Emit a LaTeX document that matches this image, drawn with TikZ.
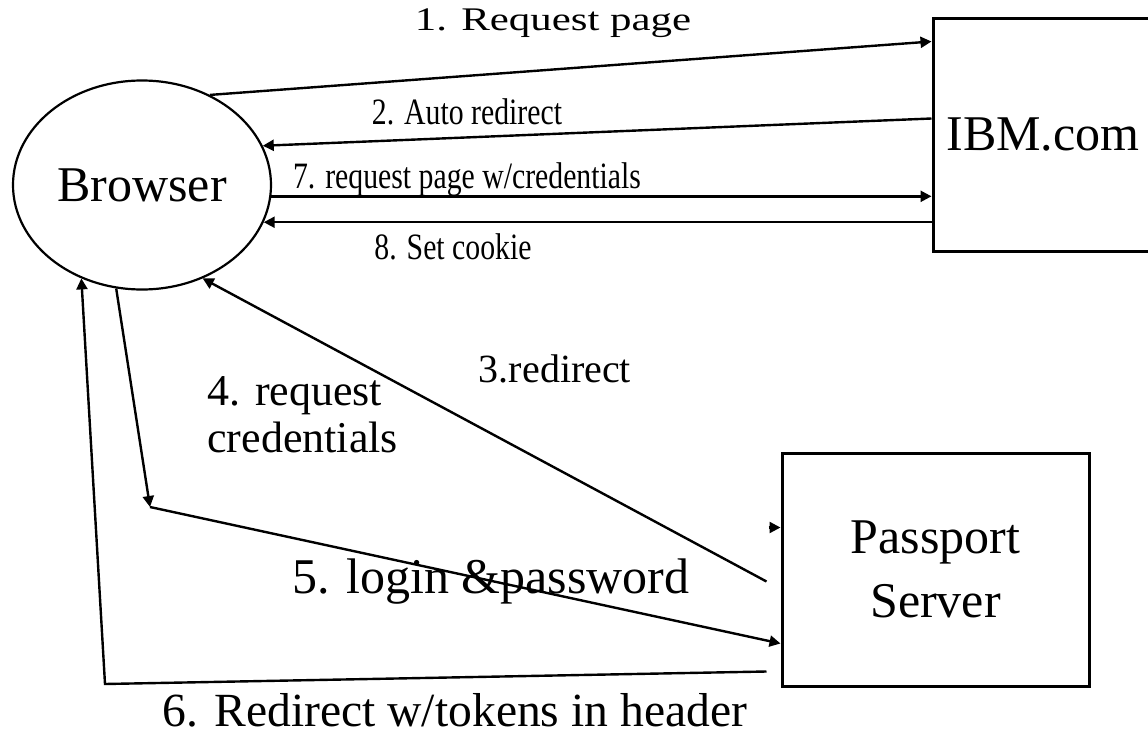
\documentclass[tikz,border=0pt]{standalone}
\usepackage{fontspec}
\setmainfont{Liberation Serif}
\newfontfamily\narrowserif[FakeStretch=0.8]{Liberation Serif}
\newfontfamily\wideserif[FakeStretch=1.3]{Liberation Serif}
\usetikzlibrary{arrows.meta,shapes.geometric}

\begin{document}
\begin{tikzpicture}[
  x=0.5pt, y=-0.5pt,
  big/.style={font=\fontsize{25}{32}\selectfont},
  host/.style={draw, line width=1.5pt, minimum width=110pt, minimum height=116.5pt,
               inner sep=0pt, align=center, big},
  client/.style={draw, ellipse, line width=1.1pt, minimum width=129pt,
                 minimum height=104.5pt, inner sep=0pt, big},
  arr/.style={-{Triangle[length=5.5pt,width=5.5pt]}, line width=1.2pt},
  lbl/.style={inner sep=0pt, anchor=base, font=\fontsize{#1}{23.5}\selectfont},
  lblnarrow/.style={inner sep=0pt, anchor=base, font=\narrowserif\fontsize{18.6}{22}\selectfont},
  lblwide/.style={inner sep=0pt, anchor=base, font=\wideserif\fontsize{16.5}{20}\selectfont}
]
\useasboundingbox (0,0) rectangle (1148,734);

\node[client] (browser) at (142,185) {Browser};
\node[host] (ibm) at (1043,134.5) {IBM.com};
\node[host, minimum width=153.5pt] (passport) at (935.5,569.5) {Passport\\Server};

\coordinate (relay) at (150,507);
\coordinate (corner) at (105,684);

% browser <-> IBM.com
\draw[arr] (browser.53) -- ([yshift=-12.5pt]ibm.north west);
\draw[arr] ([yshift=-51pt]ibm.north west) -- (browser.18);
\draw[arr] (browser.-5) -- (browser.-5 -| ibm.west);
\draw[arr] (browser.-17 -| ibm.west) -- (browser.-17);

% browser <-> passport
\draw[arr] ([shift={(-7pt,-6pt)}]passport.west) -- (browser.-57);
\draw[arr] (browser.256) -- (relay);
\draw[arr] (relay) -- ([yshift=-37pt]passport.west);
\draw[arr] ([shift={(-7pt,-51pt)}]passport.west) -- (corner) -- (browser.237);
\draw[arr] ([shift={(-6pt,21pt)}]passport.west) -- ([yshift=21pt]passport.west);

\node[lblwide] (l1) at (553,30) {1. Request page};
\node[lblnarrow] (l2) at (467,124) {2. Auto redirect};
\node[lblnarrow] (l7) at (467,188) {7. request page w/credentials};
\node[lblnarrow] (l8) at (453,259) {8. Set cookie};
\node[lbl=20] (l3) at (555,382) {3.redirect};
\node[lbl=22, anchor=north west, align=left] (l4) at (207,376) {4. request\\credentials};
\node[lbl=25] (l5) at (491,593) {5. login \&password};
\node[lbl=23.8] (l6) at (455,726) {6. Redirect w/tokens in header};
\end{tikzpicture}
\end{document}
